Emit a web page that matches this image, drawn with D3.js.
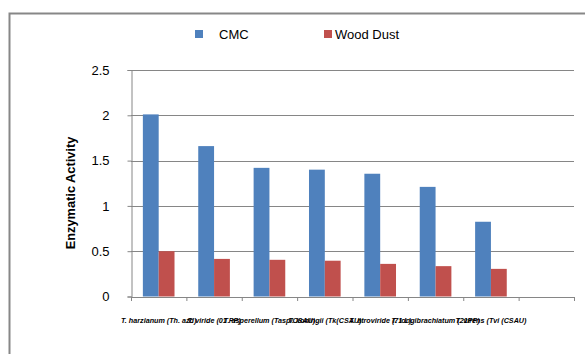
<!DOCTYPE html>
<html><head><meta charset="utf-8">
<script src="https://cdn.jsdelivr.net/npm/d3@7"></script>
<style>body{margin:0;background:#fff}svg{display:block}</style>
</head><body>
<script>
const categories = ["T. harzianum (Th. azd)", "T. viride (01 PP)", "T. asperellum (Tasp/CSAU)", "T. koningii (Tk(CSAU)", "T. atroviride (71 L)", "T. longibrachiatum (21PP)", "T. virens (Tvi (CSAU)", ""];
const seriesNames = ["CMC", "Wood Dust"];
const cmc = [2.01, 1.66, 1.42, 1.40, 1.355, 1.21, 0.825];
const woodDust = [0.50, 0.415, 0.405, 0.395, 0.36, 0.335, 0.305];
const yTicks = [0, 0.5, 1, 1.5, 2, 2.5];
const colors = ["#4f81bd", "#c0504d"];

const W = 585, H = 354;
const svg = d3.select("body").append("svg").attr("width", W).attr("height", H);
const font = "'Liberation Sans', Arial, sans-serif";
const grid = "#868686";

// outer frame
svg.append("rect").attr("x", 9.5).attr("y", 13.5).attr("width", 600).attr("height", 400)
  .attr("fill", "none").attr("stroke", "#878787").attr("stroke-width", 2);

const x0 = 131, x1 = 574, yTop = 70, yBot = 296.5;
const x = d3.scaleBand().domain(categories.map((c, i) => i)).range([x0, x1]).paddingInner(0).paddingOuter(0);
const y = d3.scaleLinear().domain([0, 2.5]).range([yBot, yTop]);
const bw = x.bandwidth() / 3.5;

// gridlines
svg.append("g").selectAll("line").data(yTicks.filter(t => t > 0)).join("line")
  .attr("x1", x0).attr("x2", x1).attr("y1", d => Math.round(y(d)) + 0.5).attr("y2", d => Math.round(y(d)) + 0.5)
  .attr("stroke", grid).attr("stroke-width", 1);

// bars
const series = [cmc, woodDust];
series.forEach((vals, s) => {
  svg.append("g").selectAll("rect").data(vals).join("rect")
    .attr("x", (d, i) => x(i) + x.bandwidth() / 2 - bw + s * bw)
    .attr("width", bw)
    .attr("y", d => y(d)).attr("height", d => yBot - y(d))
    .attr("fill", colors[s]);
});

// y axis
const yAxis = d3.axisLeft(y).tickValues(yTicks).tickSize(4).tickPadding(18).tickFormat(d => d);
const ga = svg.append("g").attr("transform", `translate(${x0 + 0.5},0)`).call(yAxis);
ga.select(".domain").attr("stroke", grid);
ga.selectAll(".tick line").attr("stroke", grid);
ga.selectAll(".tick text").attr("font-family", font).attr("font-size", 13).attr("fill", "#000");

// x axis
const xAxis = d3.axisBottom(x).tickSize(0).tickFormat(i => categories[i]).tickPadding(20);
const gx = svg.append("g").attr("transform", `translate(0,${Math.round(yBot) + 0.5})`).call(xAxis);
gx.select(".domain").attr("stroke", grid).attr("d", `M${x0},0H${x1}`);
gx.selectAll(".tick text").attr("font-family", font).attr("font-size", 7.2).attr("font-style", "italic").attr("font-weight", "bold").attr("fill", "#000");
// boundary ticks
svg.append("g").selectAll("line").data(d3.range(categories.length + 1)).join("line")
  .attr("x1", i => (i < categories.length ? x(i) : x1) + 0.5).attr("x2", i => (i < categories.length ? x(i) : x1) + 0.5)
  .attr("y1", Math.round(yBot)).attr("y2", Math.round(yBot) + 4).attr("stroke", grid);

// y title
svg.append("text").attr("transform", `translate(75,193) rotate(-90)`).attr("text-anchor", "middle")
  .attr("font-family", font).attr("font-size", 12.8).attr("font-weight", "bold").text("Enzymatic Activity");

// legend
const legX = [195, 324], legTX = [219, 335];
seriesNames.forEach((n, s) => {
  svg.append("rect").attr("x", legX[s]).attr("y", 30).attr("width", 8).attr("height", 8).attr("fill", colors[s]);
  svg.append("text").attr("x", legTX[s]).attr("y", 39).attr("font-family", font).attr("font-size", 13).text(n);
});
</script>
</body></html>
